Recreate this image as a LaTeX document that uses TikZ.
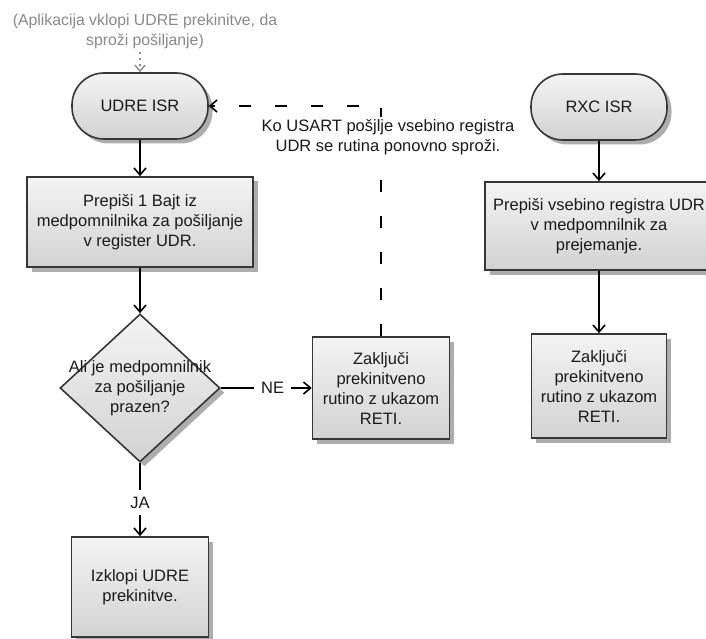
\documentclass[tikz,border=0pt]{standalone}
\usepackage{fontspec}
\setmainfont{Liberation Sans}
\usetikzlibrary{shapes.geometric,shadows,arrows.meta,calc}
\definecolor{bord}{HTML}{363636}
\definecolor{shad}{HTML}{ADADAD}
\definecolor{ftop}{HTML}{F4F4F4}
\definecolor{fbot}{HTML}{D2D2D2}
\definecolor{txt}{HTML}{1A1A1A}
\definecolor{note}{HTML}{8A8A8A}
\begin{document}
\begin{tikzpicture}[x=1pt,y=-1pt,
  font=\fontsize{16.5}{20}\selectfont,
  base/.style={draw=bord, line width=1.6pt, top color=ftop, bottom color=fbot, text=txt, align=center, inner sep=0pt,
     drop shadow={shadow xshift=4.5pt, shadow yshift=-4.5pt, fill=shad, opacity=1, draw=none}},
  term/.style={base, rectangle, rounded corners=32pt, minimum width=136pt, minimum height=66pt},
  proc/.style={base, rectangle},
  flow/.style={draw=black, line width=1.8pt, -{Straight Barb[length=7pt,width=12pt,line width=1.6pt]}},
  lbl/.style={fill=white, text=txt, inner sep=7pt},
  lbllong/.style={fill=white, text=txt, inner sep=2pt, align=center},
  notearrow/.style={draw=note, line width=1.6pt, dash pattern=on 2pt off 4pt, -{Straight Barb[length=6pt,width=10pt,line width=1.4pt]}}
]
\useasboundingbox (0,0) rectangle (706,639);
\fill[white] (0,0) rectangle (706,639);

\node[text=note, align=center, font=\fontsize{15.8}{20}\selectfont] (app) at (145,31) {(Aplikacija vklopi UDRE prekinitve, da\\sproži pošiljanje)};

\node[term] (udre) at (140,106) {UDRE ISR};
\node[term] (rxc) at (599,107) {RXC ISR};

\node[proc, minimum width=226pt, minimum height=90pt] (copy) at (140,222)
  {Prepiši 1 Bajt iz\\medpomnilnika za pošiljanje\\v register UDR.};
\node[base, diamond, minimum width=160pt, minimum height=148pt] (dec) at (140,388) {};
\node[text=txt, align=center] (dectext) at (dec) {Ali je medpomnilnik\\za pošiljanje\\prazen?};
\node[proc, minimum width=137pt, minimum height=102pt] (end1) at (381,388)
  {Zaključi\\prekinitveno\\rutino z ukazom\\RETI.};
\node[proc, minimum width=137pt, minimum height=100pt] (off) at (140,587)
  {Izklopi UDRE\\prekinitve.};

\node[proc, minimum width=228pt, minimum height=88pt] (rcopy) at (599,226)
  {Prepiši vsebino registra UDR\\v medpomnilnik za\\prejemanje.};
\node[proc, minimum width=135pt, minimum height=104pt] (end2) at (599,386)
  {Zaključi\\prekinitveno\\rutino z ukazom\\RETI.};

\draw[notearrow] (app.south -| udre.north) -- (udre.north);
\draw[flow] (udre.south) -- (copy.north);
\draw[flow] (copy.south) -- (dec.north);
\draw[flow] (dec.east) -- (end1.west) node[pos=0.57, lbl] {NE};
\draw[flow] (dec.south) -- (off.north) node[pos=0.54, lbl] {JA};
\draw[flow, dash pattern=on 12pt off 24pt] (end1.north) |- (udre.east)
  node[pos=0.433, lbllong, xshift=7pt] {Ko USART pošjlje vsebino registra\\UDR se rutina ponovno sproži.};
\draw[flow] (rxc.south) -- (rcopy.north);
\draw[flow] (rcopy.south) -- (end2.north);
\end{tikzpicture}
\end{document}
